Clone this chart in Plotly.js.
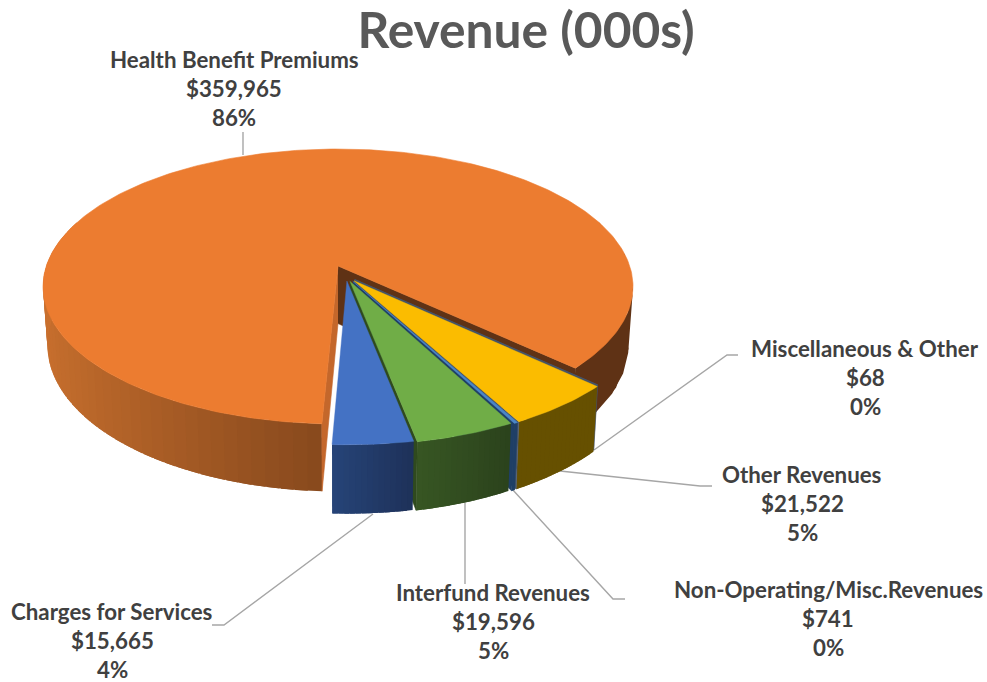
<!DOCTYPE html>
<html>
<head>
<meta charset="utf-8">
<script src="https://cdn.plot.ly/plotly-3.0.1.min.js"></script>
<style>html,body{margin:0;padding:0;background:#fff}#c{width:987px;height:682px}</style>
</head>
<body>
<div id="c"></div>
<script>
// ---- data (clockwise from the left cut of the big slice)
const categories = ["Health Benefit Premiums","Miscellaneous & Other","Other Revenues","Non-Operating/Misc.Revenues","Interfund Revenues","Charges for Services"];
const values = [359965,68,21522,741,19596,15665];
const percentLabels = ["86%","0%","5%","0%","5%","4%"];
const topColors = ["#EC7C30","#44546A","#FBBC00","#4A86C8","#70AD47","#4472C4"];
const faceColors = ["#5F3215","#44546A","#44546A","#1F3F66","#2F4A1E","#1F3864"];
const wallLeft = ["#C9702E","#3A4759","#665000","#1F3F66","#375623","#264478"];
const wallRight = ["#84471C","#3A4759","#665000","#1F3F66","#2B421C","#1E3159"];
// ---- explosion offsets per slice on the pie's ground plane
const explodeX = [0,0.056,0.054,0.05,0.04,0.03];
const explodeY = [0,0.1,0.108,0.112,0.112,0.11];
// ---- label placement (centre x, first line y) and leader polylines
const labelX = [234,865,802,828,493,112];
const labelY = [59,348,474,589,592,611];
const leaderX = [[243,243],[594,727,738],[560,700,712],[512,613,625],[465,465],[373,224,212]];
const leaderY = [[155,132],[450,355,355],[471,486,486],[489,599,599],[503,584],[514,625,625]];

// ---- projection of the tilted disc
const CX=338, CY=266, RAD=291.7, BB=134.4, K=0.149, DEPTH=57.5, SHRINK=0.985, START=92.7;
const rad=d=>d*Math.PI/180;
function proj(tDeg,rr,i,low){
  const X=rr*Math.cos(rad(tDeg))+explodeX[i], Y=rr*Math.sin(rad(tDeg))+explodeY[i], w=1-K*Y;
  const x=RAD*X/w, y=BB*Y/w;
  return low?[CX+x*SHRINK,CY+y+DEPTH/w]:[CX+x,CY+y];
}
function hex(c){return [1,3,5].map(j=>parseInt(c.substr(j,2),16));}
function mix(a,b,f){const A=hex(a),B2=hex(b);return 'rgb('+A.map((v,j)=>Math.round(v+(B2[j]-v)*f)).join(',')+')';}
const total=values.reduce((a,b)=>a+b,0);
const spans=values.map(v=>v/total*360);
const starts=[];let acc=START;spans.forEach(s=>{starts.push(acc);acc+=s;});

const traces=[];
function poly(pts,fill,lineColor,lw){
  traces.push({type:'scatter',mode:'lines',x:pts.map(p=>p[0]),y:pts.map(p=>p[1]),fill:'toself',fillcolor:fill,
    line:{color:lineColor||fill,width:lw===undefined?0.6:lw},hoverinfo:'skip',showlegend:false});
}
// Strips overlap the next one, so no seams show; the arc of each strip follows the rim.
function wallStrips(i,t1,t2,colorAt,n){
  const step=(t2-t1)/n;
  for(let j=0;j<n;j++){
    const a=t1+step*j, b=a+step*(j<n-1?1.9:1);
    const arc=[0,0.25,0.5,0.75,1].map(f=>a+(b-a)*f);
    const pts=arc.map(t=>proj(t,1,i,false)).concat(arc.slice().reverse().map(t=>proj(t,1,i,true)));
    poly(pts,colorAt(a+step/2,(j+0.5)/n),null,0);
  }
}
function cutFace(i,t,color){
  poly([proj(t,0,i,false),proj(t,1,i,false),proj(t,1,i,true),proj(t,0,i,true)],color);
}
function topFace(i,t1,t2,color,lineColor,lw){
  const pts=[proj(t1,0,i,false)];
  const n=Math.max(2,Math.ceil(Math.abs(t2-t1)));
  for(let j=0;j<=n;j++)pts.push(proj(t1+(t2-t1)*j/n,1,i,false));
  pts.push(proj(t1,0,i,false));
  poly(pts,color,lineColor,lw);
}
// leaders go under the pie
leaderX.forEach((lx,i)=>traces.push({type:'scatter',mode:'lines',x:lx,y:leaderY[i],line:{color:'#A6A6A6',width:1.4},hoverinfo:'skip',showlegend:false}));

// big slice
const end0=starts[0]+spans[0];
wallStrips(0,starts[0],200,t=>mix(wallRight[0],wallLeft[0],Math.min(1,Math.abs(Math.cos(rad(t))))),44);
wallStrips(0,340,end0,()=>faceColors[0],2);
cutFace(0,starts[0],'#C4672B');
cutFace(0,end0,faceColors[0]);
topFace(0,starts[0],end0,topColors[0]);
// the other slices, far to near
for(let i=1;i<values.length;i++){
  const a=starts[i],b=a+spans[i];
  const n=Math.max(1,Math.ceil(spans[i]));
  wallStrips(i,a,b,(t,f)=>mix(wallRight[i],wallLeft[i],f),n);
  if(i<values.length-1)cutFace(i,b,faceColors[i]);
  topFace(i,a,b,topColors[i],i===1?topColors[i]:null,i===1?1.2:0.4);
}

// labels
const annotations=[];
categories.forEach((c,i)=>{
  [c,'$'+values[i].toLocaleString('en-US'),percentLabels[i]].forEach((t,j)=>{
    annotations.push({xref:'x',yref:'y',x:labelX[i],y:labelY[i]+j*29.3,text:'<b>'+t.replace('&','&amp;')+'</b>',showarrow:false,
      xanchor:'center',yanchor:'middle',font:{family:'Lato, Carlito, sans-serif',size:22.3,color:'#404040'}});
  });
});

const layout={
  width:987,height:682,margin:{l:0,r:0,t:0,b:0},paper_bgcolor:'#fff',plot_bgcolor:'#fff',showlegend:false,
  title:{text:'<b>Revenue (000s)</b>',x:0.533,xref:'paper',xanchor:'center',y:0.955,yref:'paper',yanchor:'middle',
    font:{family:'Lato, Carlito, sans-serif',size:49.7,color:'#595959'}},
  xaxis:{range:[0,987],visible:false,fixedrange:true},
  yaxis:{range:[682,0],visible:false,fixedrange:true},
  annotations:annotations
};
Plotly.newPlot('c',traces,layout,{displayModeBar:false,staticPlot:true});
</script>
</body>
</html>
